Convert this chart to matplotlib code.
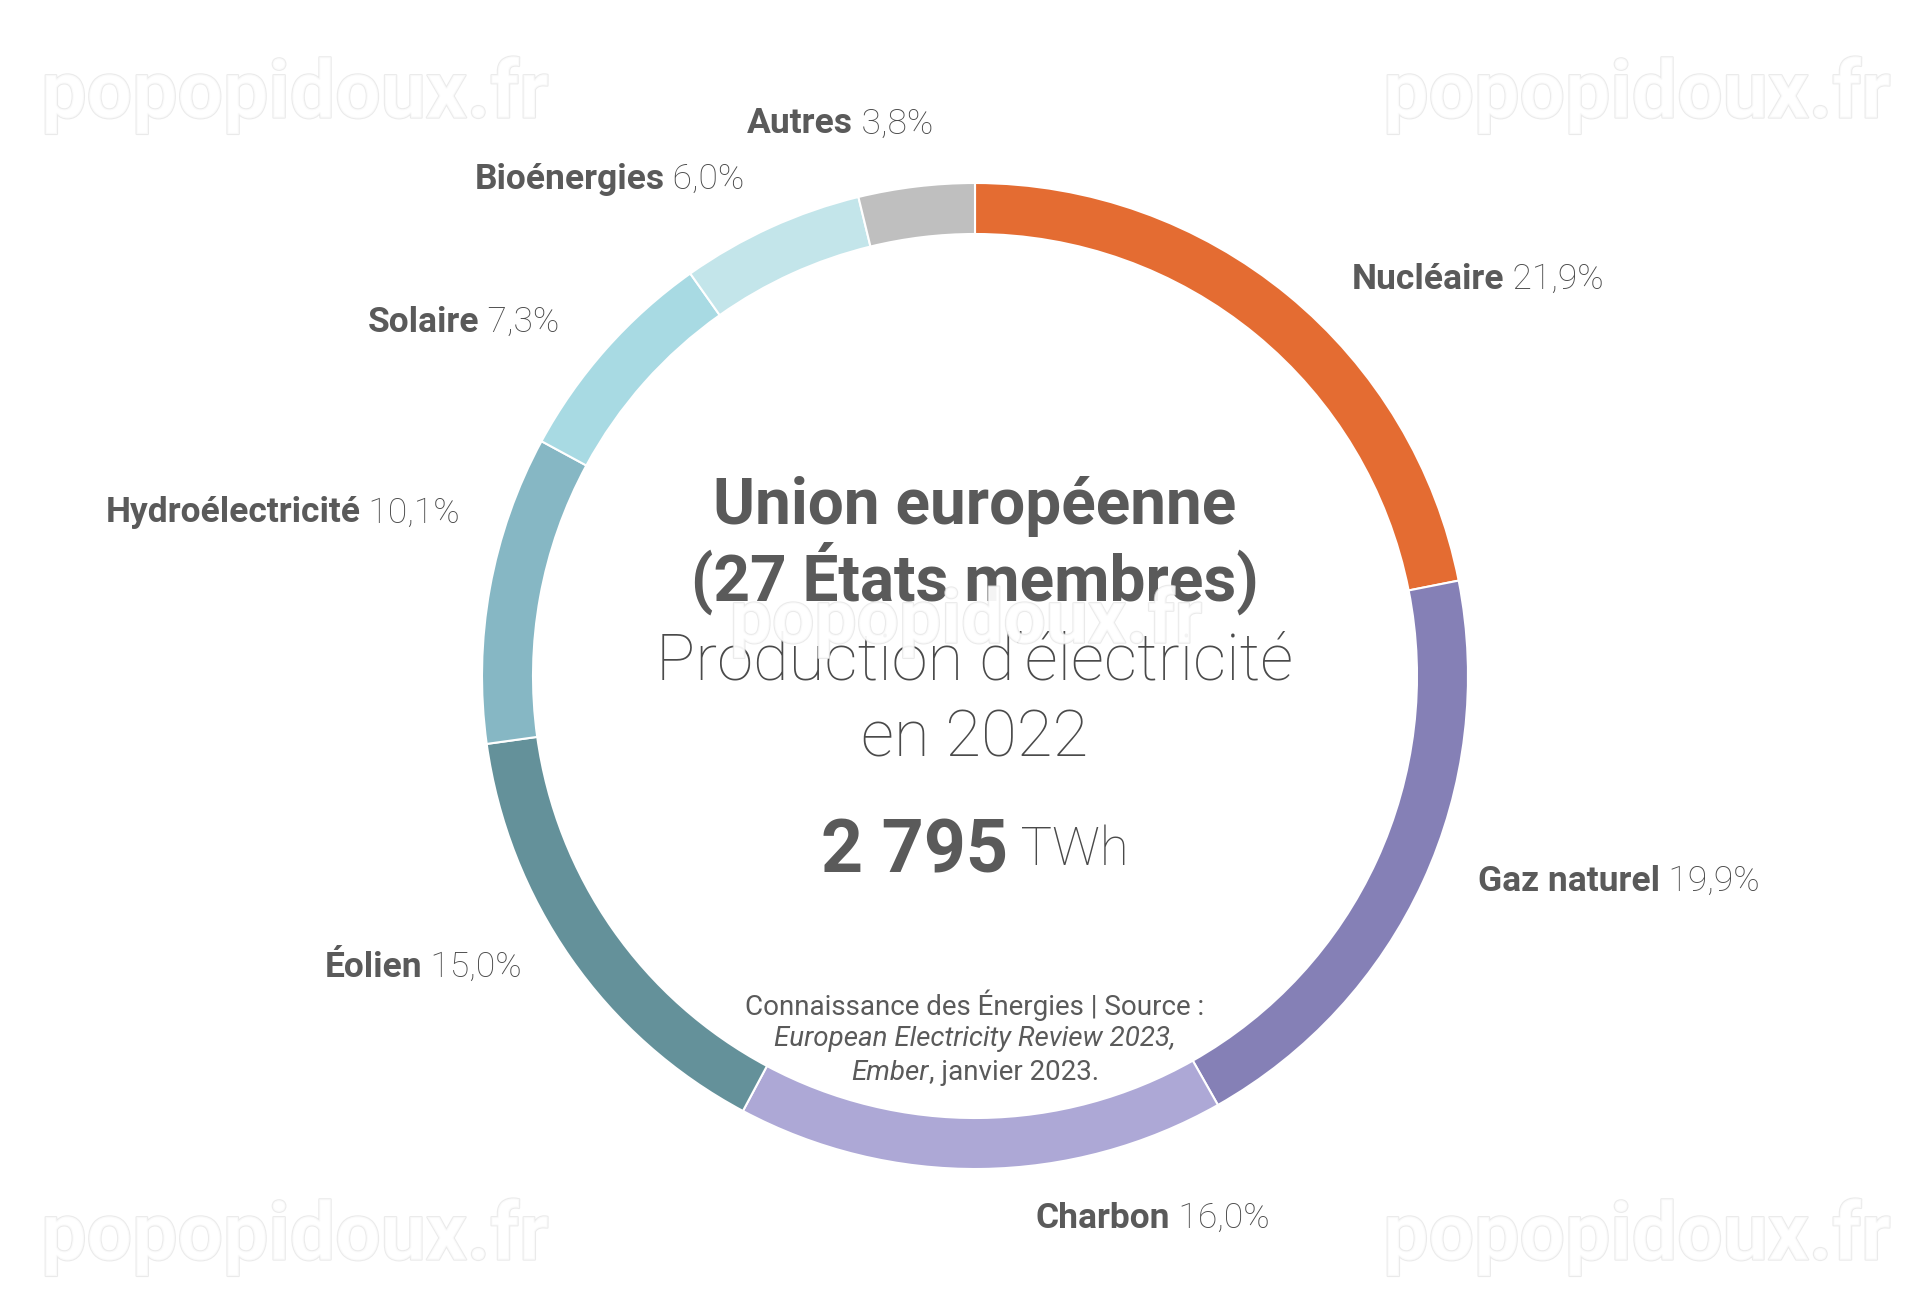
import numpy as np
import matplotlib
matplotlib.use("Agg")
import matplotlib.pyplot as plt
import matplotlib.patheffects as pe

# donnees
sources = ["Nucléaire", "Gaz naturel", "Charbon", "Éolien",
           "Hydroélectricité", "Solaire", "Bioénergies", "Autres"]
parts = [21.9, 19.9, 16.0, 15.0, 10.1, 7.3, 6.0, 3.8]
couleurs = ["#E46C32", "#8580B6", "#ADA8D6", "#64919A",
            "#86B7C4", "#A8DAE3", "#C3E5EA", "#BFBFBF"]
total_twh = "2 795"

W, H = 1920, 1292
cx, cy = 975, H - 676      # centre de l'anneau (y vers le haut)
R = 493
epaisseur = 51
gris = "#5a5a5a"
gris_fin = "#4a4a4a"       # texte light un peu plus fonce
police = ["Roboto", "DejaVu Sans"]

fig = plt.figure(figsize=(W / 100, H / 100), dpi=100)
ax = fig.add_axes([0, 0, 1, 1])

ax.pie(parts, colors=couleurs, startangle=90, counterclock=False,
       center=(cx, cy), radius=R,
       wedgeprops=dict(width=epaisseur, edgecolor="white", linewidth=1.5))
ax.set_xlim(0, W)
ax.set_ylim(0, H)
ax.set_aspect("equal")
ax.axis("off")

fig.canvas.draw()
rend = fig.canvas.get_renderer()


def largeur(t):
    bb = t.get_window_extent(renderer=rend)
    return bb.width


# petits decalages a la main pour certaines etiquettes (pixels)
decal = {"Charbon": (54, 10), "Hydroélectricité": (25, 69), "Autres": (-70, 11),
         "Nucléaire": (28, -24), "Gaz naturel": (4, 27), "Bioénergies": (-3, 1),
         "Solaire": (-5, -7), "Éolien": (-3, 26)}

r_lab = 1.113 * R
cumul = 0
for nom, p in zip(sources, parts):
    mid = 90 - (cumul + p / 2) * 3.6
    cumul += p
    a = np.radians(mid)
    x = cx + r_lab * np.cos(a)
    y = cy + r_lab * np.sin(a)
    dx, dy = decal.get(nom, (0, 0))
    x += dx
    y += dy
    pct = (" %.1f%%" % p).replace(".", ",")
    t1 = ax.text(0, 0, nom, fontsize=25.5, fontweight="bold", color=gris,
                 family=police, va="center_baseline")
    t2 = ax.text(0, 0, pct, fontsize=25.5, fontweight="light", color=gris_fin,
                 family=police, va="center_baseline")
    w1, w2 = largeur(t1), largeur(t2)
    if nom == "Autres":
        x0 = x - (w1 + w2) / 2
    elif np.cos(a) >= 0:
        x0 = x
    else:
        x0 = x - w1 - w2
    t1.set_position((x0, y))
    t2.set_position((x0 + w1, y))

# texte central
ax.text(cx, H - 500, "Union européenne", fontsize=46, fontweight="bold",
        color=gris, family=police, ha="center", va="center_baseline")
ax.text(cx, H - 571, "(27 États membres)", fontsize=46, fontweight="bold",
        color=gris, family=police, ha="center", va="center_baseline")
ax.text(cx, H - 655, "Production d\u2019électricité", fontsize=47,
        fontweight="light", color=gris_fin, family=police, ha="center",
        va="center_baseline")
ax.text(cx, H - 732, "en 2022", fontsize=47, fontweight="light",
        color=gris_fin, family=police, ha="center", va="center_baseline")

tb = ax.text(0, 0, total_twh, fontsize=53, fontweight="bold", color=gris,
             family=police, va="center_baseline")
tu = ax.text(0, 0, " TWh", fontsize=38, fontweight="light", color=gris_fin,
             family=police, va="center_baseline")
wb, wu = largeur(tb), largeur(tu)
x0 = cx - (wb + wu) / 2
tb.set_position((x0, H - 845))
tu.set_position((x0 + wb, H - 845))

# source
ax.text(cx, H - 1002, "Connaissance des Énergies | Source :", fontsize=20,
        color=gris, family=police, ha="center", va="center_baseline")
ax.text(cx, H - 1036, "European Electricity Review 2023,", fontsize=20,
        style="italic", color=gris, family=police, ha="center",
        va="center_baseline")
te = ax.text(0, 0, "Ember", fontsize=20, style="italic", color=gris,
             family=police, va="center_baseline")
tj = ax.text(0, 0, ", janvier 2023.", fontsize=20, color=gris,
             family=police, va="center_baseline")
we, wj = largeur(te), largeur(tj)
x0 = cx - (we + wj) / 2
te.set_position((x0, H - 1070))
tj.set_position((x0 + we, H - 1070))

# filigranes
contour = [pe.withStroke(linewidth=1.5, foreground="#e4e4e4")]
for (wx, wy) in [(295, 95), (1637, 95), (295, 1237), (1637, 1237)]:
    ax.text(wx, H - wy, "popopidoux.fr", fontsize=58, fontweight="bold",
            color="white", alpha=0.75, family=police, ha="center", va="center",
            path_effects=contour, zorder=10)
ax.text(966, H - 622, "popopidoux.fr", fontsize=54, fontweight="bold",
        color="white", alpha=0.75, family=police, ha="center", va="center",
        path_effects=contour, zorder=10)

fig.savefig("out.png", dpi=100, facecolor="white")
